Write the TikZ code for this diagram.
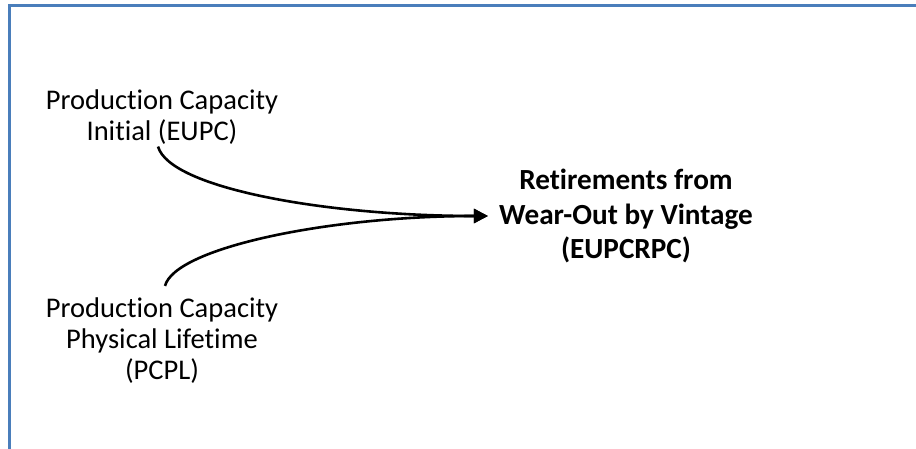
\documentclass[tikz,border=0pt]{standalone}
\usepackage{fontspec}
\setmainfont{Carlito}[Ligatures=NoCommon]
\usepackage{xcolor}
\usetikzlibrary{arrows.meta}

\definecolor{frameblue}{RGB}{74,126,187}

\begin{document}
\begin{tikzpicture}[
  x=1pt, y=-1pt,
  font=\fontsize{28.5}{31}\selectfont,
  var/.style={align=center, inner sep=0pt},
  outvar/.style={align=center, inner ysep=0pt, inner xsep=11pt,
                 font=\fontsize{29.2}{34.5}\selectfont\bfseries},
  link/.style={-{Triangle[length=14pt,width=14pt]}, line width=2.6pt},
]
\useasboundingbox (0,0) rectangle (916,449);

% frame
\draw[frameblue, line width=3pt] (9,449) -- (9,6) -- (916,6);

% inputs
\node[var] (init) at (162,117) {Production Capacity\\Initial (EUPC)};
\node[var] (life) at (162,341) {Production Capacity\\Physical Lifetime\\(PCPL)};

% output
\node[outvar] (ret) at (626,216) {Retirements from\\Wear-Out by Vintage\\(EUPCRPC)};

% edges
\draw[link] ([xshift=-4pt,yshift=-2pt]init.south) .. controls +(12,42) and +(-160,0) .. (ret.west);
\draw[link] ([xshift=3pt,yshift=12pt]life.north) .. controls +(10,-38) and +(-160,0) .. (ret.west);
\end{tikzpicture}
\end{document}
